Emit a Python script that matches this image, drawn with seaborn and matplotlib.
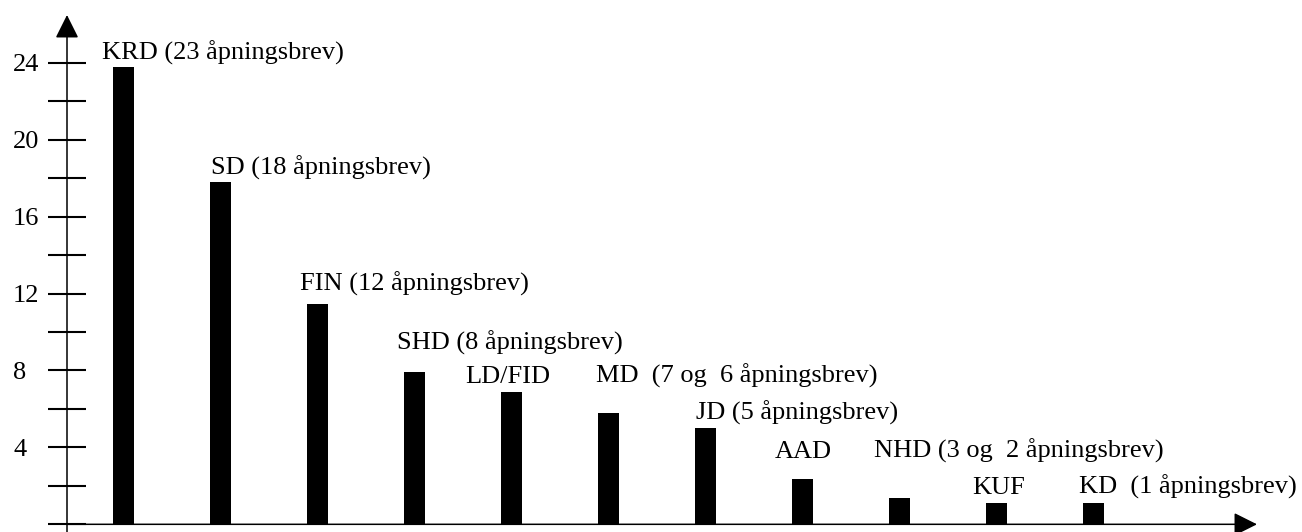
#%%
import matplotlib
matplotlib.use('Agg')
import numpy as np
import pandas as pd
import matplotlib.pyplot as plt
import seaborn as sns
from matplotlib.ticker import FixedLocator

# departments and bar heights (number of opening letters)
departments = ['KRD', 'SD', 'FIN', 'SHD', 'LD/FID', 'MD', 'JD', 'AAD', 'NHD', 'KUF', 'KD']
letters = [23.8, 17.8, 11.45, 7.9, 6.9, 5.8, 5.0, 2.35, 1.35, 1.1, 1.1]

# text written above the bars
bar_labels = ['KRD (23 åpningsbrev)', 'SD (18 åpningsbrev)', 'FIN (12 åpningsbrev)',
              'SHD (8 åpningsbrev)', 'LD/FID', 'MD  (7 og  6 åpningsbrev)',
              'JD (5 åpningsbrev)', 'AAD', 'NHD (3 og  2 åpningsbrev)', 'KUF',
              'KD  (1 åpningsbrev)']

# label layout: baseline height (data units) and shift from bar left edge (pixels)
label_base = [24.15, 18.2, 12.13, 9.08, 7.35, 7.35, 5.43, 3.45, 3.45, 1.58, 1.58]
label_dx = [-11, 1, -7, -7, -36, -2, 1, -18, -15, -14, -4]

plot_df = pd.DataFrame({'DEPT': departments, 'LETTERS': letters})

sns.set_style('white')
plt.rcParams['font.family'] = ['Liberation Serif', 'DejaVu Serif']
plt.rcParams['font.size'] = 19
plt.rcParams['text.color'] = 'black'
plt.rcParams['ytick.color'] = 'black'
plt.rcParams['ytick.labelcolor'] = 'black'

fig = plt.figure(figsize=(13.02, 5.32), dpi=100)
ax = fig.add_axes([67/1302, 0, 1190/1302, 517/532])

bar_w = 0.216
sns.barplot(data=plot_df, x='DEPT', y='LETTERS', color='black', saturation=1,
            width=bar_w, linewidth=0, ax=ax)

ax.set_xlim(-0.582, 11.68)
ax.set_ylim(-0.4, 26.48)
ax.set_xlabel('')
ax.set_ylabel('')
ax.set_xticks([])
for s in ax.spines.values():
    s.set_visible(False)

#y ticks: labels every 4, marks every 2
ax.yaxis.set_major_locator(FixedLocator([4, 8, 12, 16, 20, 24]))
ax.yaxis.set_minor_locator(FixedLocator([0, 2, 6, 10, 14, 18, 22]))
ax.tick_params(axis='y', which='both', direction='inout', length=28, width=1.5,
               color='black', left=True)
ax.tick_params(axis='y', which='major', pad=24.8, labelsize=19, labelcolor='black')
for lbl in ax.get_yticklabels():
    lbl.set_horizontalalignment('left')

#axis lines with arrow heads
arrow = dict(arrowstyle='-|>,head_length=0.72,head_width=0.36', color='black',
             lw=1.1, mutation_scale=20, shrinkA=0, shrinkB=0)
ax.annotate('', xy=(0, 1), xytext=(0, 0), xycoords='axes fraction', arrowprops=arrow)
ax.annotate('', xy=(1, 0), xytext=(0, 0), xycoords=ax.get_yaxis_transform(),
            arrowprops=arrow)

#labels above bars
for i, (txt, yb, dx) in enumerate(zip(bar_labels, label_base, label_dx)):
    ax.annotate(txt, xy=(i - bar_w/2, yb), xytext=(dx*0.72, 0),
                textcoords='offset points', ha='left', va='baseline',
                fontsize=19, color='black')

plt.savefig('out.png', dpi=100, facecolor='w')
# %%
